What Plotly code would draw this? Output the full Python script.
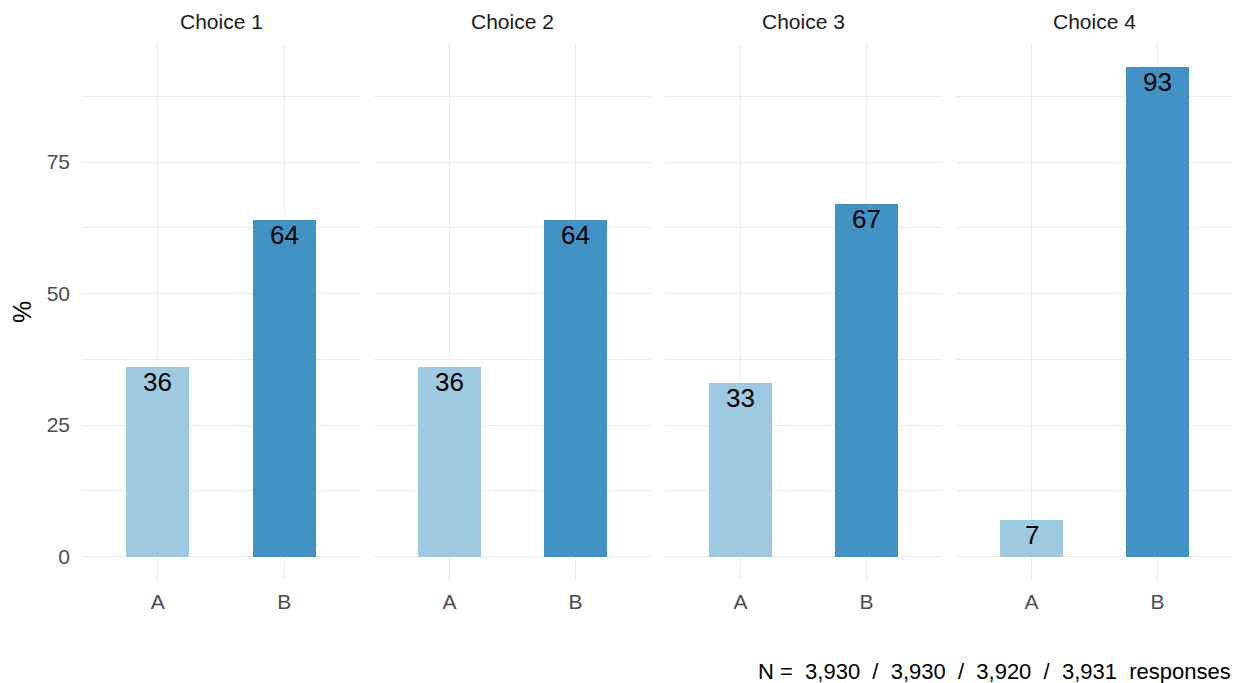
import plotly.graph_objects as go

panels = ["Choice 1", "Choice 2", "Choice 3", "Choice 4"]
categories = ["A", "B"]
values_A = [36, 36, 33, 7]
values_B = [64, 64, 67, 93]
n_responses = ["3,930", "3,930", "3,920", "3,931"]
y_ticks = [0, 25, 50, 75]
colors = {"A": "#9ECAE1", "B": "#4292C6"}

W, H = 1236, 683
FONT = "Liberation Sans, Arial, sans-serif"
panel_x = [(82, 360), (374, 651), (665, 942), (956, 1233)]
y_top, y_bot = 43, 581

fig = go.Figure()
for i, name in enumerate(panels):
    ax = "" if i == 0 else str(i + 1)
    vals = [values_A[i], values_B[i]]
    fig.add_trace(go.Bar(
        x=categories, y=vals,
        marker=dict(color=[colors[c] for c in categories], line=dict(width=0)),
        width=0.5,
        xaxis="x" + ax, yaxis="y" + ax, showlegend=False,
        hoverinfo="skip",
    ))
    for c, v in zip(categories, vals):
        fig.add_annotation(
            x=c, y=v, xref="x" + ax, yref="y" + ax, text=str(v),
            showarrow=False, xanchor="center", yanchor="top", yshift=2,
            font=dict(size=26, color="black", family=FONT),
        )
    x0, x1 = panel_x[i]
    fig.layout["xaxis" + ax] = dict(
        domain=[x0 / W, x1 / W], type="category", range=[-0.6, 1.6],
        showgrid=True, gridcolor="#EBEBEB", gridwidth=1.3, zeroline=False,
        showline=False, ticks="", anchor="y" + ax,
        tickfont=dict(size=21, color="#4D4D4D", family=FONT),
        ticklabelstandoff=6,
    )
    fig.layout["yaxis" + ax] = dict(
        domain=[1 - y_bot / H, 1 - y_top / H], range=[-4.65, 97.65],
        tickvals=y_ticks, showticklabels=(i == 0),
        showgrid=True, gridcolor="#EBEBEB", gridwidth=1.3, zeroline=False,
        showline=False, ticks="", anchor="x" + ax,
        minor=dict(tickvals=[12.5, 37.5, 62.5, 87.5], showgrid=True,
                   gridcolor="#EBEBEB", gridwidth=0.7),
        tickfont=dict(size=21, color="#4D4D4D", family=FONT),
        ticklabelstandoff=11,
    )
    fig.add_annotation(
        x=(x0 + x1) / 2 / W, y=1 - 21 / H, xref="paper", yref="paper",
        text=name, showarrow=False, xanchor="center", yanchor="middle",
        font=dict(size=21, color="#1A1A1A", family=FONT),
    )

fig.add_annotation(
    x=22 / W, y=1 - 312 / H, xref="paper", yref="paper", text="%",
    textangle=-90, showarrow=False, xanchor="center", yanchor="middle",
    font=dict(size=25, color="black", family=FONT),
)
sp2 = "\u00a0\u00a0"
fig.add_annotation(
    x=1233 / W, y=1 - 671 / H, xref="paper", yref="paper",
    text="N =" + sp2 + (sp2 + "/" + sp2).join(n_responses) + sp2 + "responses",
    showarrow=False, xanchor="right", yanchor="middle",
    font=dict(size=22, color="black", family=FONT),
)

fig.update_layout(
    width=W, height=H, margin=dict(l=0, r=0, t=0, b=0),
    paper_bgcolor="white", plot_bgcolor="white", bargap=0,
    font=dict(family=FONT),
)
fig.write_html("out.html", config={"displayModeBar": False},
               post_script="document.body.style.margin='0';")
